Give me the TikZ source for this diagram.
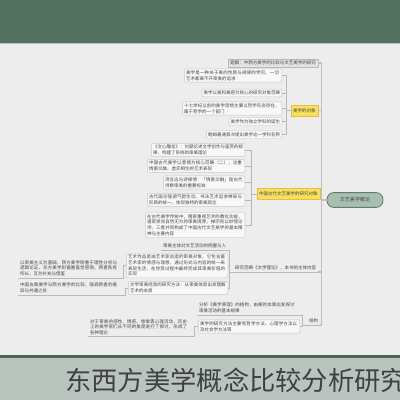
\documentclass[tikz,border=0pt]{standalone}
\usepackage{fontspec}
\newfontfamily\cjk{Noto Sans CJK SC}
\XeTeXlinebreaklocale "zh"
\XeTeXlinebreakskip=0pt plus 1pt
\usetikzlibrary{positioning}
\definecolor{bandgreen}{RGB}{82,113,97}
\definecolor{linegreen}{RGB}{74,102,88}
\definecolor{footgray}{RGB}{184,196,189}
\definecolor{paper}{RGB}{237,237,237}
\definecolor{topicfill}{RGB}{168,190,177}
\definecolor{topicdraw}{RGB}{96,126,110}
\definecolor{hilite}{RGB}{248,224,92}
\definecolor{hiliteedge}{RGB}{228,190,70}
\definecolor{inkgray}{RGB}{70,70,70}

\begin{document}
\begin{tikzpicture}[x=0.025cm,y=-0.025cm,
  every node/.style={font=\cjk\fontsize{3.2}{4.0}\selectfont, text=inkgray},
  topic/.style={draw=topicdraw, fill=topicfill, rounded corners=0.17cm, line width=0.6pt,
    minimum width=1.4cm, minimum height=0.37cm, font=\cjk\fontsize{3.6}{4.4}\selectfont},
  headbox/.style={draw=gray!55, fill=gray!22, line width=0.3pt, inner sep=1.3pt, anchor=east},
  branch/.style={draw=hiliteedge, fill=hilite, line width=0.3pt, inner sep=1.5pt,
    minimum height=0.28cm, anchor=east},
  leaf/.style={draw=gray!45, fill=white!60!paper, rounded corners=0.8pt, line width=0.3pt,
    inner sep=1.2pt, align=left, anchor=east},
  plain/.style={inner sep=1.2pt, align=left, anchor=east},
  spine/.style={draw=gray!50, line width=0.9pt},
  conn/.style={draw=gray!55, line width=0.35pt}]
  \useasboundingbox (0,0) rectangle (400,400);
  \clip (0,0) rectangle (400,400);

  % page bands
  \fill[bandgreen] (0,0) rectangle (400,43);
  \fill[paper] (0,43) rectangle (400,355);
  \draw[white!60!bandgreen, line width=0.5pt] (0,43.5) -- (400,43.5);
  \fill[linegreen] (0,355) rectangle (400,358);
  \fill[footgray] (0,358) rectangle (400,400);
  \node[anchor=west, inner sep=0pt, font=\cjk\fontsize{18.7}{20}\selectfont,
    text=black!75] (title) at (65,380) {东西方美学概念比较分析研究};

  % central topic and main branches
  \node[topic] (topic) at (355,200) {文艺美学概论};
  \node[headbox] (br1) at (318,63) {题解：中西方美学的比较与文艺美学的研究};
  \node[branch] (br2) at (318,110.5) {美学的对象};
  \node[branch] (br3) at (320,194) {中国古代文艺美学的研究对象};
  \node[plain] (br4) at (318,268) {研究范畴《文学理论》，本书的主体内容};
  \node[plain] (br5) at (320,321) {结构};

  % branch 2
  \node[leaf, text width=2.35cm] (c1) at (282,75.5) {美学是一种关于美的性质与规律的学问，一切艺术都离不开审美的追求};
  \node[leaf] (c2) at (282,93) {美学以美和美感为核心的研究对象范畴};
  \node[leaf, text width=2.4cm] (c3) at (282,108.5) {十七世纪以前的美学思想主要以哲学形态存在，属于哲学的一个部门};
  \node[leaf] (c4) at (282,121.5) {美学作为独立学科的诞生};
  \node[leaf] (c5) at (282,134.5) {鲍姆嘉通首次提出美学这一学科名称};

  % branch 3
  \node[leaf, text width=2.25cm] (d1) at (245,150) {《文心雕龙》：刘勰论述文学创作与鉴赏的规律，构建了系统的审美理论};
  \node[leaf, text width=2.35cm] (d2) at (245,166) {中国古代美学以意境为核心范畴（二），注重情景交融、虚实相生的艺术表现};
  \node[leaf, text width=1.95cm] (d3) at (245,182.5) {诗言志与诗缘情：「情景交融」是古代诗歌审美的重要标准};
  \node[leaf, text width=2.35cm] (d4) at (245,200) {古代画论强调气韵生动，书法艺术追求神采与形质的统一，体现独特的审美观念};
  \node[leaf, text width=2.4cm] (d5) at (245,225) {在古代美学传统中，儒家重视艺术的教化功能，道家崇尚自然无为的审美境界，禅宗则以妙悟论诗，三者共同构成了中国古代文艺美学的基本精神与主要内容};

  % branch 4
  \node[plain] (e1) at (228,246) {审美主体对文艺活动的把握与人};
  \node[leaf, text width=2.45cm] (e2) at (228,265.5) {艺术作品是由艺术家创造的审美对象，它包含着艺术家的情感与理想，通过形式与内容的统一来表现生活，在欣赏过程中最终完成其审美价值的实现};
  \node[plain, text width=2.45cm] (e2a) at (120,268) {以审美主义为基础，西方美学侧重于理性分析与逻辑论证，东方美学则偏重直觉感悟，两者各有所长，互为补充与借鉴};
  \node[leaf, text width=2.4cm] (e3) at (228,288) {文学审美经验的研究方法：从审美体验出发理解艺术的本质};
  \node[plain, text width=2.45cm] (e3a) at (120,288) {中国古典美学与西方美学的比较，强调两者的差异与共通之处};

  % branch 5
  \node[plain, text width=2.4cm] (f1) at (297,308) {分析《美学原理》的结构，由美的本质出发探讨审美活动的基本规律};
  \node[leaf, text width=2.45cm] (f2) at (300,326.5) {美学的研究方法主要有哲学方法、心理学方法以及社会学方法等};
  \node[plain, text width=2.45cm] (f2a) at (190,327) {对于审美的感性、情感、想象等心理活动，历史上的美学家们从不同的角度进行了探讨，形成了各种理论};

  % connectors
  \foreach \b in {br1,br2,br3}
    \draw[spine] (topic.west) -- ++(-5,0) |- (\b.east);
  \foreach \b in {br4,br5}
    \draw[spine] (topic.west) -- ++(-5,0) |- (\b.south east);
  \foreach \n in {br4,br5,e1,e2a,e3a,f1,f2a}
    \draw[conn] (\n.south west) -- (\n.south east);
  \foreach \c in {c1,c2,c3,c4,c5}
    \draw[conn] (br2.west) -- ++(-4.5,0) |- (\c.east);
  \foreach \c in {d1,d2,d3,d4,d5}
    \draw[conn] (br3.west) -- ++(-6,0) |- (\c.east);
  \draw[conn] (br4.south west) -- ++(-4,0) |- (e1.south east);
  \foreach \c in {e2,e3}
    \draw[conn] (br4.south west) -- ++(-4,0) |- (\c.east);
  \draw[conn] (e2.west) -- ++(-2.5,0) |- (e2a.south east);
  \draw[conn] (e3.west) -- ++(-2.5,0) |- (e3a.south east);
  \draw[conn] (br5.south west) -- ++(-5,0) |- (f1.south east);
  \draw[conn] (br5.south west) -- ++(-5,0) |- (f2.east);
  \draw[conn] (f2.west) -- ++(-4,0) |- (f2a.south east);
\end{tikzpicture}
\end{document}
